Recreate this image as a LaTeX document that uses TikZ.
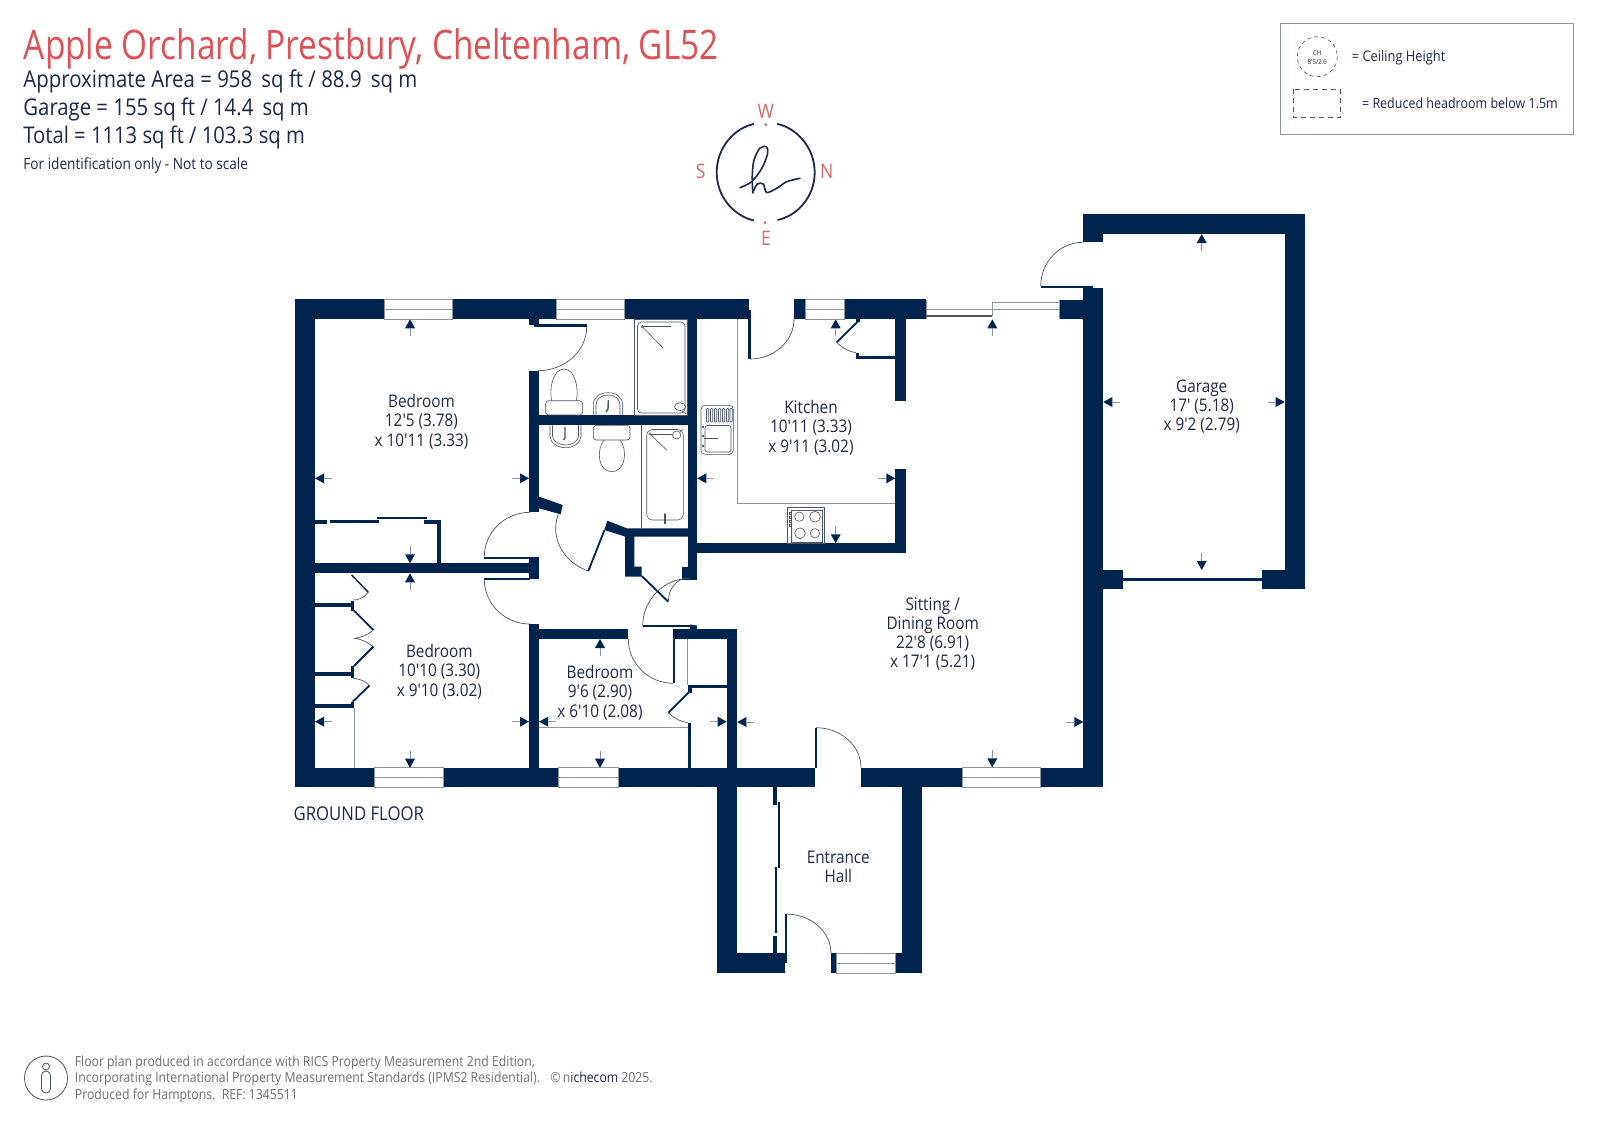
\documentclass[tikz,border=0pt]{standalone}
\usepackage{fontspec}
\setmainfont{Open Sans}[FakeStretch=0.88,Ligatures=TeXOff]
\newfontfamily\titlef{Open Sans}[FakeStretch=0.82]
\definecolor{navy}{HTML}{01244F}
\definecolor{inkc}{HTML}{1B2A47}
\definecolor{redt}{HTML}{DE5157}
\definecolor{pinkt}{HTML}{D8696C}
\definecolor{greyl}{HTML}{8E959C}
\definecolor{greyt}{HTML}{6B7177}
\definecolor{thinc}{HTML}{4A5566}
\tikzset{
  wall/.style={fill=navy},
  doorarc/.style={draw=thinc,line width=0.35pt},
  leaf/.style={draw=navy,line width=0.9pt},
  leafthin/.style={draw=navy,line width=0.6pt},
  fit/.style={draw=thinc,line width=0.3pt},
  gline/.style={draw=greyl,line width=0.45pt},
  tailline/.style={draw=greyl,line width=0.4pt},
  room/.style={inner sep=0pt,align=center,text=inkc,font=\fontsize{8.7}{9.55}\selectfont},
  info/.style={inner sep=0pt,anchor=base west,text=inkc},
  compassl/.style={inner sep=0pt,text=pinkt,font=\fontsize{10}{12}\selectfont},
  foot/.style={inner sep=0pt,anchor=base west,text=greyt,font=\fontsize{6.95}{7.5}\selectfont},
  legendt/.style={inner sep=0pt,anchor=west,text=inkc}
}
\newcommand{\wl}[4]{\fill[wall] (#1,#2) rectangle (#3,#4);}
\newcommand{\win}[4]{%
  \draw[gline] (#1,#2) rectangle (#3,#4);
  \draw[gline] (#1,{(#2+#4)/2}) -- (#3,{(#2+#4)/2});}
\newcommand{\qarc}[6]{%
  \pgfmathsetmacro\qax{#1+0.552*(#5-#3)}\pgfmathsetmacro\qay{#2+0.552*(#6-#4)}%
  \pgfmathsetmacro\qbx{#5+0.552*(#1-#3)}\pgfmathsetmacro\qby{#6+0.552*(#2-#4)}%
  \draw[doorarc] (#1,#2) .. controls (\qax,\qay) and (\qbx,\qby) .. (#5,#6);}
\newcommand{\arw}[4]{%
  \fill[wall] (#1,#2) -- ({#1+9*#3+5*#4},{#2+9*#4+5*#3}) -- ({#1+9*#3-5*#4},{#2+9*#4-5*#3}) -- cycle;
  \draw[tailline] ({#1+9*#3},{#2+9*#4}) -- ({#1+17*#3},{#2+17*#4});}
\begin{document}
\begin{tikzpicture}[x=0.5pt,y=-0.5pt]
\useasboundingbox (0,0) rectangle (1600,1131);
\fill[white] (0,0) rectangle (1600,1131);

% ---- outer walls, main block
\wl{295}{299}{384}{319.3}
\wl{452.7}{299}{556}{319.3}
\wl{624}{299}{749}{319.3}
\wl{794.3}{299}{805}{319.3}
\wl{844}{299}{926}{319.3}
\wl{1059.5}{299.5}{1084}{319.3}
\wl{295}{299}{315}{787.3}
\wl{295}{767.7}{374.3}{787.3}
\wl{443}{767.7}{558.7}{787.3}
\wl{618}{767.7}{815}{787.3}
\wl{861}{767.7}{962}{787.3}
\wl{1040.3}{767.7}{1103.3}{787.3}
\wl{1083.3}{287.5}{1103.3}{787.3}
% windows
\win{384}{299.5}{452.7}{319.3}
\win{556}{299.5}{624}{319.3}
\win{805}{299.5}{844}{319.3}
\win{374.3}{767.7}{443}{787}
\win{558.7}{767.7}{618}{787}
\win{962}{767.7}{1040.3}{787}
% sliding door
\draw[gline] (926,299.5) -- (926,319);
\draw[gline] (1059.5,299.5) -- (1059.5,319);
\draw[gline] (926,309.3) -- (992.3,309.3);
\draw[leafthin,draw=thinc] (926,316) -- (992.3,316);
\draw[gline] (992.3,316) -- (992.3,302.7) -- (1059.5,302.7);
\draw[gline] (992.3,309.3) -- (1059.5,309.3);

% ---- garage
\wl{1083}{213.7}{1305}{234}
\wl{1083}{213.7}{1103.3}{242.3}
\wl{1284.7}{213.7}{1305}{589.3}
\wl{1262}{570}{1305}{589.3}
\wl{1103}{570}{1123}{589.3}
\wl{1123}{577.7}{1262}{581}
\wl{1040.7}{286}{1093.3}{288}
\qarc{1040.7}{286}{1083}{286}{1083}{242.3}

% ---- bedroom / bath partition
\wl{529}{370.7}{539}{512}
\wl{529}{319}{539}{325}
\wl{534}{324}{587}{326.7}
\qarc{586.7}{326.7}{538}{326.7}{538}{370.7}
\wl{539}{415}{688}{425.3}
\wl{688}{319}{697.3}{580}
\fill[wall] (539,496.7) -- (562.7,505) -- (560.7,514.3) -- (539,508.3) -- cycle;
\fill[wall] (607.3,520.7) -- (626.7,528.3) -- (688,528.3) -- (688,536.7) -- (634.3,536.7) -- (634.3,566.7) -- (641.7,566.7) -- (641.7,576.7) -- (625,576.7) -- (625,536.5) -- (604.3,530) -- cycle;
\draw[leaf] (604.5,530) -- (588.3,571);
\qarc{588.3}{571}{604}{530}{558.3}{514.3}
\wl{681.7}{567}{697.3}{580}
% bedroom 1/2 dividing wall
\wl{315}{562.7}{529}{573.3}
\wl{529}{557.3}{539}{578.7}
\wl{484.3}{556.7}{530}{558.5}
\wl{484.3}{578}{530}{579.6}
\qarc{484.3}{556.7}{530}{556.7}{530}{512.3}
\qarc{484.3}{579.3}{530}{579.3}{530}{624}
% lower partition
\wl{529}{624}{539}{767.7}
\wl{539}{629.3}{628.3}{639}
\qarc{628.3}{639}{673.3}{639}{673.3}{683.3}
\wl{673.3}{629.3}{675}{683.3}
\wl{673.3}{629.3}{737.3}{639}
\wl{726.7}{629.3}{737.3}{767.7}
\wl{688.3}{685}{726.7}{688.3}
\wl{688.3}{685.7}{691.7}{693.3}
\draw[leaf] (689.3,691.7) -- (668.3,712.7);
\draw[doorarc] (668.3,712.7) .. controls (673,717.5) and (680,721.5) .. (688,722.7);
\wl{688}{722.7}{691}{767.7}
\draw[gline] (687.3,639) -- (687.3,685);
\draw[gline,line width=0.6pt] (539,727.7) -- (688,727.7);
% hall cupboard doors
\draw[leaf] (641.7,576) -- (668.3,601.7);
\qarc{668.3}{601.7}{687.3}{601.7}{687.3}{578.3}
\wl{642.7}{625}{690}{627}
\fill[wall] (690,627) -- (690,624.5) -- (697,625.5) -- (697,629.3) -- (690,629.3) -- cycle;
\qarc{642.7}{626}{690}{626}{690}{578.3}

% ---- bedroom 1 wardrobe
\wl{315}{520}{327.3}{524}
\wl{330}{520}{378.7}{522.7}
\wl{377.3}{517}{426.7}{519.3}
\wl{424}{520}{440.7}{524}
\wl{436.7}{520}{440.7}{563}
% ---- bedroom 2 wardrobes
\wl{315}{602.7}{353.3}{606.7}
\wl{350.7}{601}{354}{611}
\wl{315}{672}{353.3}{675.7}
\wl{350.7}{666}{354}{678.3}
\wl{315}{704}{353.3}{707.7}
\wl{350.7}{702}{354}{707.7}
\draw[gline] (354,707.7) -- (354,767.7);
\draw[leaf,line width=0.7pt] (351.7,575) -- (368.3,592.3);
\draw[doorarc] (368.3,592.3) .. controls (364,598) and (358,600) .. (353.3,600);
\draw[leaf] (353.3,610) -- (373.3,630);
\draw[doorarc] (373.3,630) .. controls (366,636) and (360,637.5) .. (355,638.3) .. controls (360,639) and (366,641) .. (373.3,646.7);
\draw[leaf] (373.3,646.7) -- (354,666);
\draw[doorarc] (353.3,678.3) .. controls (360,679) and (366,681) .. (369.3,685.7);
\draw[leaf] (369.3,685.7) -- (352.7,701.7);

% ---- kitchen
\wl{748.3}{310}{750.5}{359}
\qarc{750}{359}{750}{319}{794}{319}
\wl{697}{543.3}{906}{553.3}
\wl{895.3}{319}{906}{400.7}
\wl{895.3}{469.3}{906}{553.3}
\wl{856}{356}{895.3}{359}
\wl{856}{352.7}{859.3}{359}
\wl{855.5}{319}{860}{321.5}
\draw[leaf] (859.3,320) -- (836.7,342.3);
\draw[doorarc] (836.7,342.3) .. controls (842,348) and (850,352) .. (856,352.7);
\draw[gline] (737.3,319.3) -- (737.3,503.3) -- (895.3,503.3);
% sink
\draw[fit,rounded corners=2pt] (701,405.3) rectangle (733.3,454.3);
\draw[fit,rounded corners=1.2pt] (705,425.5) rectangle (731,452);
\foreach \sx in {706.5,710.5,714.5,718.5,722.5,726.5,730}{\draw[fit,rounded corners=0.4pt] (\sx,408.5) rectangle (\sx+2.2,422);}
\draw[fit] (703.5,438) -- (718,438);
\foreach \sy in {427,436,446}{\fill[thinc] (703,\sy) circle[radius=1.4];}
% hob
\draw[fit] (787.7,507.7) rectangle (824.3,543.3);
\draw[fit] (791,510) rectangle (822,542);
\foreach \hx/\hy/\hr in {799.3/516.7/4.7,815/516.7/5.4,800/533.3/5.4,815/533.3/4.7}{\draw[fit] (\hx,\hy) circle[radius=\hr];}
\foreach \hy in {512,516,520,524}{\draw[fit] (788.8,\hy) rectangle (791,\hy+2.6);}

% ---- shower room fittings
\draw[fit] (634.7,319.3) rectangle (687.5,415);
\draw[fit,rounded corners=2pt] (637.5,322) rectangle (685,413);
\fill[white] (680,406.7) circle[radius=5];
\draw[fit] (680,406.7) ellipse[x radius=5.5,y radius=4];
\draw[fit] (682,411) -- (686,414);
\draw[fit] (642.3,326.7) circle[radius=1.3];
\draw[fit] (642.3,326.7) -- (663.3,348.3);
\draw[fit] (642.3,326.7) -- (670.7,326.7);
\draw[fit,rounded corners=1.5pt] (545.7,400.7) rectangle (582.7,415);
\draw[fit] (552,400.7) .. controls (549,395) and (551,369) .. (564,369) .. controls (577,369) and (579,395) .. (576,400.7);
\draw[fit] (593.3,415) -- (593.3,405) .. controls (593.3,397) and (600,392.7) .. (608,392.7) .. controls (616,392.7) and (622.7,397) .. (622.7,405) -- (622.7,415);
\draw[fit] (596,415) -- (596,405) .. controls (596,399) and (601,395) .. (608,395) .. controls (615,395) and (620,399) .. (620,405) -- (620,415);
\draw[fit,line width=0.7pt] (608.3,401) -- (608,409) -- (606,412);
\fill[thinc] (608.3,401) circle[radius=1];
% bathroom fittings
\draw[fit] (550,425.3) -- (550,436) .. controls (550,443) and (558,447.7) .. (565.5,447.7) .. controls (573,447.7) and (581,443) .. (581,436) -- (581,425.3);
\draw[fit] (552.5,425.3) -- (552.5,436) .. controls (552.5,441) and (559,445) .. (565.5,445) .. controls (572,445) and (578.5,441) .. (578.5,436) -- (578.5,425.3);
\draw[fit,line width=0.7pt] (565,428) -- (565,438) -- (563.5,440);
\fill[thinc] (565,428) circle[radius=1];
\draw[fit,rounded corners=1.5pt] (593.3,425.3) rectangle (630,440);
\draw[fit] (604,440) .. controls (596,450) and (598,471.7) .. (611.8,471.7) .. controls (625.5,471.7) and (628,450) .. (620,440);
\draw[fit] (641.7,425.3) -- (641.7,528.3);
\draw[fit,rounded corners=3pt] (646.7,429.5) rectangle (683.3,520);
\draw[fit] (650,434) circle[radius=1.2];
\draw[fit] (650,434) -- (666.7,450);
\draw[fit] (650,434) -- (676,434);
\draw[fit,fill=white] (676.7,435) ellipse[x radius=4.2,y radius=4];
\draw[fit] (680,431.5) -- (683,429.5);
\draw[fit,line width=0.7pt] (665,514) -- (665,524);
\fill[thinc] (665,514) circle[radius=1];

% ---- living room door, entrance hall
\wl{815}{727.7}{816.7}{767.7}
\qarc{816}{727.7}{816}{767.7}{861}{767.7}
\wl{717.3}{787}{737.3}{973.3}
\wl{717.3}{953.3}{785.3}{973.3}
\wl{902.3}{787}{922.3}{973.3}
\wl{831}{953.3}{836.7}{973.3}
\wl{895.3}{953.3}{902.3}{973.3}
\win{836.7}{953.5}{895.3}{973}
\wl{784.7}{914}{786.7}{963}
\qarc{786}{914}{786}{953.3}{831}{953.3}
\wl{773}{787}{777.3}{805}
\wl{777.7}{802.3}{780}{868.3}
\wl{775}{866.7}{777.3}{933.3}
\wl{773}{936}{777.3}{953.5}

% ---- dimension arrows
\arw{410}{319.3}{0}{1}\arw{315}{478.3}{1}{0}\arw{529}{478.3}{-1}{0}\arw{410}{563.3}{0}{-1}
\arw{410}{573.3}{0}{1}\arw{315}{721.7}{1}{0}\arw{529}{721.7}{-1}{0}\arw{410}{767.7}{0}{-1}
\arw{600}{639}{0}{1}\arw{539}{721.7}{1}{0}\arw{726.7}{721.7}{-1}{0}\arw{600}{767.7}{0}{-1}
\arw{835.7}{319.3}{0}{1}\arw{697.3}{478.3}{1}{0}\arw{895.3}{478.3}{-1}{0}\arw{835.7}{543.3}{0}{-1}
\arw{992.3}{319.3}{0}{1}\arw{737.3}{722}{1}{0}\arw{1083.3}{722}{-1}{0}\arw{992.3}{767.3}{0}{-1}
\arw{1201.7}{234}{0}{1}\arw{1103.3}{402}{1}{0}\arw{1284.7}{402}{-1}{0}\arw{1201.7}{570}{0}{-1}

% ---- room labels
\node[room] (bedone) at (421.5,421.7) {Bedroom\\12'5 (3.78)\\x 10'11 (3.33)};
\node[room] (bedtwo) at (439.3,671.7) {Bedroom\\10'10 (3.30)\\x 9'10 (3.02)};
\node[room] (bedthree) at (600,692.7) {Bedroom\\9'6 (2.90)\\x 6'10 (2.08)};
\node[room] (kitchen) at (811,427.7) {Kitchen\\10'11 (3.33)\\x 9'11 (3.02)};
\node[room] (sitting) at (932.7,633.7) {Sitting /\\Dining Room\\22'8 (6.91)\\x 17'1 (5.21)};
\node[room] (garage) at (1201.7,406.5) {Garage\\17' (5.18)\\x 9'2 (2.79)};
\node[room] (hall) at (838.3,867.2) {Entrance\\Hall};
\node[info,font=\fontsize{9.5}{11}\selectfont] (floor) at (293.3,820) {GROUND FLOOR};

% ---- header
\node[info,text=redt,font=\titlef\fontsize{20.35}{22}\selectfont] (title) at (23.5,59.5) {Apple Orchard, Prestbury, Cheltenham, GL52};
\node[info,font=\fontsize{11.6}{12}\selectfont] (areaa) at (23,87.5) {Approximate Area = 958\, sq ft / 88.9\, sq m};
\node[info,font=\fontsize{11.55}{12}\selectfont] (areab) at (23,115) {Garage = 155 sq ft / 14.4\, sq m};
\node[info,font=\fontsize{11.5}{12}\selectfont] (areac) at (23,143) {Total = 1113 sq ft / 103.3 sq m};
\node[info,font=\fontsize{7.75}{8}\selectfont] (note) at (23,169.5) {For identification only - Not to scale};

% ---- compass
\draw[draw=inkc,line width=0.9pt] (777.2,123.9) .. controls (797,128) and (814.7,148) .. (814.7,172.3) .. controls (814.7,197) and (797,216) .. (777.5,220);
\draw[draw=inkc,line width=0.9pt] (754,124) .. controls (734,128) and (716.7,148) .. (716.7,172.3) .. controls (716.7,197) and (734,216) .. (754,220.5);
\fill[pinkt] (765.7,124.7) circle[radius=1.5];
\fill[pinkt] (765,222.7) circle[radius=1.5];
\draw[draw=inkc,line width=0.8pt,line cap=round] plot[smooth] coordinates {(740,187.7) (751.7,181.7) (762,168) (767.5,154) (766.7,147) (760,148) (754,160) (752.3,175) (752.7,192.7)};
\draw[draw=inkc,line width=0.8pt,line cap=round] plot[smooth] coordinates {(752.7,192.7) (757.3,184) (763.3,184) (766.7,192.5) (776.7,188.3) (786.7,181.7) (800,178.3)};
\node[compassl] (cw) at (765.7,111.7) {W};
\node[compassl] (cs) at (700.7,171) {S};
\node[compassl] (cn) at (826.7,171) {N};
\node[compassl] (ce) at (766,238) {E};

% ---- legend
\draw[greyl,line width=0.5pt] (1280.3,23.3) rectangle (1573.3,134);
\draw[thinc,line width=0.3pt,dash pattern=on 2pt off 1.5pt] (1317.3,56.7) circle[radius=20];
\node[inner sep=0pt,text=inkc,font=\fontsize{3.5}{4}\selectfont,align=center] (ch) at (1317.3,57.5) {CH\\[0.5pt]8'5/2.6};
\node[legendt,font=\fontsize{7.3}{8}\selectfont] (ceil) at (1351.5,57.5) {= Ceiling Height};
\draw[thinc,line width=0.3pt,dash pattern=on 2.5pt off 2pt] (1293.3,89.3) rectangle (1340.7,117.3);
\node[legendt,font=\fontsize{7.1}{8}\selectfont] (head) at (1361.7,103.3) {= Reduced headroom below 1.5m};

% ---- footer
\draw[thinc,line width=0.4pt] (46,1078) ellipse[x radius=21.5,y radius=22];
\draw[thinc,line width=0.4pt] (46,1066.5) circle[radius=3.5];
\draw[thinc,line width=0.4pt,rounded corners=2.2pt] (41.5,1071) rectangle (50.5,1093);
\node[foot] (fa) at (74.5,1066) {Floor plan produced in accordance with RICS Property Measurement 2nd Edition,};
\node[foot] (fb) at (74.5,1082.5) {Incorporating International Property Measurement Standards (IPMS2 Residential).};
\node[foot] (fc) at (74.5,1099) {Produced for Hamptons.\ \ REF:\ 1345511};
\node[foot] (fd) at (550,1082.5) {©\,n\textcolor{inkc}{ichecom} 2025.};
\end{tikzpicture}
\end{document}
